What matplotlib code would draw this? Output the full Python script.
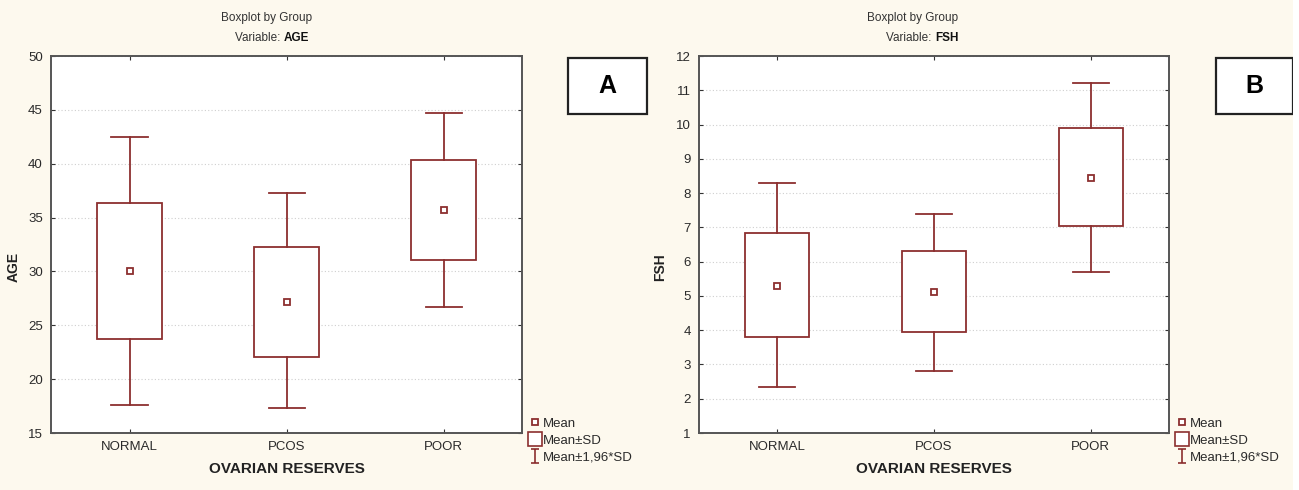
import matplotlib
matplotlib.use('Agg')
from matplotlib import pyplot as plt
from matplotlib.lines import Line2D
from matplotlib.path import Path
from matplotlib.patches import Rectangle

plt.rcParams['font.family'] = ['Liberation Sans', 'DejaVu Sans']

# 数据：均值、均值±SD、均值±1.96*SD
groups = ['NORMAL', 'PCOS', 'POOR']

age_mean = [30.0, 27.2, 35.7]
age_sd_lo = [23.7, 22.1, 31.1]
age_sd_hi = [36.4, 32.3, 40.3]
age_ci_lo = [17.6, 17.3, 26.7]
age_ci_hi = [42.5, 37.3, 44.7]

fsh_mean = [5.3, 5.1, 8.45]
fsh_sd_lo = [3.8, 3.95, 7.05]
fsh_sd_hi = [6.85, 6.3, 9.9]
fsh_ci_lo = [2.35, 2.8, 5.7]
fsh_ci_hi = [8.3, 7.4, 11.2]

red = '#8c2f2f'
spine_col = '#555555'
bg = '#fdf9ee'

# "I" 形图例标记
i_path = Path([(-0.6, -1), (0.6, -1), (0, -1), (0, 1), (-0.6, 1), (0.6, 1)],
              [Path.MOVETO, Path.LINETO, Path.MOVETO, Path.LINETO, Path.MOVETO, Path.LINETO])


def draw_panel(ax, mean, sd_lo, sd_hi, ci_lo, ci_hi, ylim, yticks):
    stats = []
    for i in range(len(groups)):
        stats.append({'med': mean[i], 'mean': mean[i], 'q1': sd_lo[i], 'q3': sd_hi[i],
                      'whislo': ci_lo[i], 'whishi': ci_hi[i], 'fliers': [], 'label': groups[i]})
    ax.bxp(stats, positions=[1, 2, 3], widths=0.41, capwidths=0.23, showmeans=True,
           showfliers=False, patch_artist=True,
           boxprops=dict(facecolor='white', edgecolor=red, linewidth=1.3),
           whiskerprops=dict(color=red, linewidth=1.3),
           capprops=dict(color=red, linewidth=1.3),
           medianprops=dict(linewidth=0),
           meanprops=dict(marker='s', markersize=4.5, markerfacecolor='white',
                          markeredgecolor=red, markeredgewidth=1.3),
           zorder=3)
    ax.set_xlim(0.5, 3.5)
    ax.set_ylim(*ylim)
    ax.set_yticks(yticks)
    ax.set_facecolor('white')
    ax.yaxis.grid(True, linestyle=(0, (1, 2)), color='#cfcfcf', linewidth=0.8)
    ax.set_axisbelow(True)
    for s in ax.spines.values():
        s.set_color(spine_col)
        s.set_linewidth(1.4)
    ax.tick_params(axis='both', which='both', direction='in', length=3, color='#333333',
                   top=True, right=True, labelsize=9.5, labelcolor='#2a2a2a', pad=6)
    ax.set_xlabel('OVARIAN RESERVES', fontsize=11, fontweight='bold', color='#222222', labelpad=6)

    handles = [
        Line2D([], [], linestyle='none', marker='s', markersize=4.5, markerfacecolor='white',
               markeredgecolor=red, markeredgewidth=1.3),
        Line2D([], [], linestyle='none', marker='s', markersize=10, markerfacecolor='white',
               markeredgecolor=red, markeredgewidth=1.2),
        Line2D([], [], linestyle='none', marker=i_path, markersize=10, markerfacecolor='none',
               markeredgecolor=red, markeredgewidth=1.2),
    ]
    ax.legend(handles, ['Mean', 'Mean\u00b1SD', 'Mean\u00b11,96*SD'], loc='center left',
              bbox_to_anchor=(1.0, -0.02), frameon=False, fontsize=9.5, handlelength=1.0,
              handletextpad=0.15, borderpad=0, labelspacing=0.35, borderaxespad=0.45,
              labelcolor='#2a2a2a')


fig = plt.figure(figsize=(12.99, 4.9), dpi=100)
fig.patch.set_facecolor(bg)

ax1 = fig.add_axes([0.0393, 0.1163, 0.3626, 0.7694])
ax2 = fig.add_axes([0.5381, 0.1163, 0.3618, 0.7694])

draw_panel(ax1, age_mean, age_sd_lo, age_sd_hi, age_ci_lo, age_ci_hi, (15, 50),
           range(15, 51, 5))
draw_panel(ax2, fsh_mean, fsh_sd_lo, fsh_sd_hi, fsh_ci_lo, fsh_ci_hi, (1, 12),
           range(1, 13))

# 标题与纵轴标签
for cx, split, var in [(267, 284, 'AGE'), (913, 935, 'FSH')]:
    fig.text(cx / 1299, 1 - 18 / 490, 'Boxplot by Group', ha='center', va='center',
             fontsize=8.5, color='#333333')
    fig.text(split / 1299, 1 - 38 / 490, 'Variable: ', ha='right', va='center',
             fontsize=8.5, color='#333333')
    fig.text(split / 1299, 1 - 38 / 490, var, ha='left', va='center',
             fontsize=8.5, fontweight='bold', color='#111111')

fig.text(14 / 1299, 1 - 267 / 490, 'AGE', rotation=90, ha='center', va='center',
         fontsize=10, fontweight='bold', color='#222222')
fig.text(660 / 1299, 1 - 267 / 490, 'FSH', rotation=90, ha='center', va='center',
         fontsize=10, fontweight='bold', color='#222222')

# 面板字母框
for x0, w, letter in [(568, 79, 'A'), (1216, 77, 'B')]:
    fig.patches.append(Rectangle((x0 / 1299, 1 - 114 / 490), w / 1299, 56 / 490,
                                 transform=fig.transFigure, facecolor='white',
                                 edgecolor='#222222', linewidth=1.6))
    fig.text((x0 + w / 2) / 1299, 1 - 86 / 490, letter, ha='center', va='center',
             fontsize=18, fontweight='bold', color='black')

# 右侧白边
fig.patches.append(Rectangle((1293 / 1299, 0), 6 / 1299, 1, transform=fig.transFigure,
                             facecolor='white', edgecolor='none'))

plt.savefig('out.png', dpi=100, facecolor=fig.get_facecolor())
